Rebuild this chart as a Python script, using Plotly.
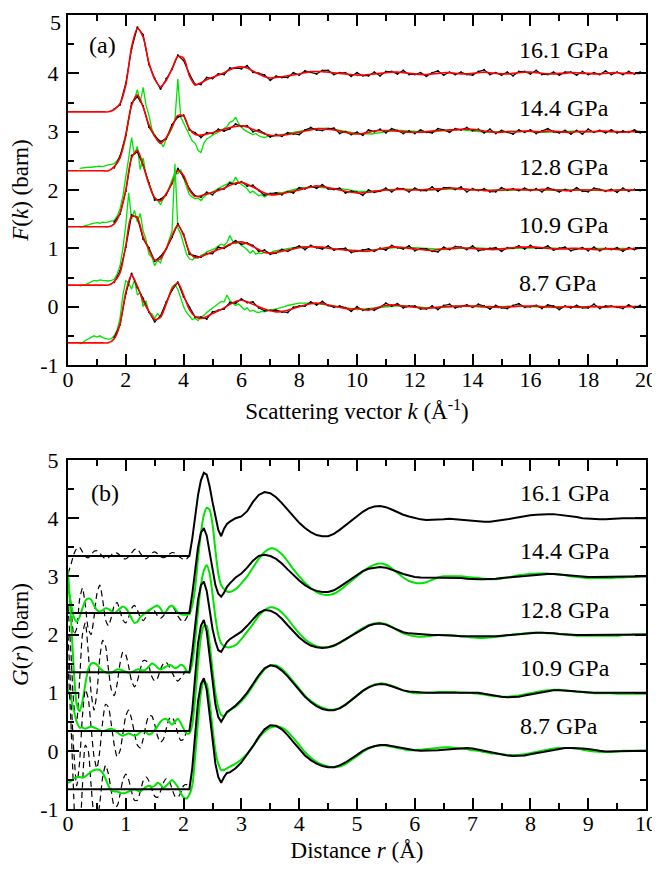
import plotly.graph_objects as go

FONT = "Liberation Serif, Times New Roman, Times, serif"
GREEN = "#00e400"
pressures = ["16.1 GPa", "14.4 GPa", "12.8 GPa", "10.9 GPa", "8.7 GPa"]
offsets = [4, 3, 2, 1, 0]

# ---------------- panel (a): F(k) ----------------
# fitted F(k), k = 0.0 ... 19.8 step 0.2 (rows of 10)
fit_161 = [-0.66, -0.66, -0.66, -0.66, -0.66, -0.66, -0.66, -0.66, -0.62, -0.52,
           -0.2, 0.45, 0.77, 0.62, 0.18, -0.1, -0.23, -0.12, 0.08, 0.29,
           0.26, -0.04, -0.20, -0.16, -0.11, -0.07, -0.03, 0.01, 0.06, 0.10,
           0.11, 0.09, 0.04, -0.01, -0.06, -0.08, -0.07, -0.06, -0.04, -0.03,
           -0.01, 0.01, 0.03, 0.03, 0.03, 0.02, 0.01, 0.0, -0.01, -0.02,
           -0.03, -0.03, -0.02, -0.01, 0.0, 0.01, 0.02, 0.02, 0.01, 0.0,
           -0.01, -0.02, -0.02, -0.01, 0.0, 0.01, 0.01, 0.0, -0.01, -0.01,
           0.0, 0.01, 0.02, 0.01, 0.0, -0.01, -0.01, 0.0, 0.01, 0.02,
           0.02, 0.01, 0.0, -0.01, -0.01, 0.0, 0.0, 0.01, 0.01, 0.0,
           0.0, -0.01, -0.01, 0.0, 0.01, 0.01, 0.0, 0.0, 0.0, 0.0]
fit_144 = [-0.67, -0.67, -0.67, -0.67, -0.67, -0.67, -0.67, -0.67, -0.6, -0.45,
           -0.05, 0.45, 0.63, 0.42, 0.12, -0.08, -0.2, -0.1, 0.08, 0.28,
           0.27, 0.05, -0.05, -0.06, -0.04, -0.02, 0.01, 0.04, 0.07, 0.09,
           0.10, 0.08, 0.04, 0.0, -0.04, -0.06, -0.07, -0.06, -0.05, -0.03,
           -0.01, 0.01, 0.03, 0.05, 0.05, 0.04, 0.03, 0.01, -0.01, -0.03,
           -0.04, -0.03, -0.01, 0.01, 0.02, 0.02, 0.02, 0.01, 0.0, -0.01,
           -0.01, -0.01, 0.0, 0.01, 0.02, 0.02, 0.03, 0.03, 0.04, 0.04,
           0.04, 0.03, 0.01, 0.0, -0.01, -0.01, 0.0, 0.0, 0.0, 0.01,
           0.01, 0.0, 0.0, 0.01, 0.01, 0.0, -0.01, -0.01, 0.0, 0.0,
           0.0, 0.0, 0.01, 0.01, 0.0, 0.0, -0.01, 0.0, 0.0, 0.0]
fit_128 = [-0.63, -0.63, -0.63, -0.63, -0.63, -0.63, -0.63, -0.63, -0.58, -0.4,
           0.0, 0.55, 0.68, 0.42, 0.1, -0.13, -0.19, -0.06, 0.12, 0.33,
           0.25, 0.0, -0.11, -0.1, -0.07, -0.04, -0.01, 0.03, 0.08, 0.12,
           0.13, 0.1, 0.05, 0.0, -0.05, -0.08, -0.08, -0.06, -0.04, -0.02,
           0.0, 0.03, 0.05, 0.07, 0.06, 0.04, 0.02, 0.0, -0.02, -0.04,
           -0.05, -0.05, -0.04, -0.02, -0.01, 0.0, 0.0, 0.01, 0.01, 0.0,
           0.0, 0.0, 0.01, 0.01, 0.02, 0.02, 0.03, 0.03, 0.02, 0.01,
           0.0, 0.0, -0.01, -0.01, 0.0, 0.0, 0.01, 0.01, 0.01, 0.0,
           0.0, 0.0, 0.01, 0.01, 0.0, 0.0, -0.01, -0.01, 0.0, 0.0,
           0.0, 0.0, 0.0, -0.01, -0.01, 0.0, 0.0, 0.0, 0.0, 0.0]
fit_109 = [-0.63, -0.63, -0.63, -0.63, -0.63, -0.63, -0.63, -0.63, -0.57, -0.42,
           0.05, 0.55, 0.52, 0.2, -0.02, -0.2, -0.18, 0.0, 0.22, 0.40,
           0.22, -0.06, -0.16, -0.14, -0.1, -0.06, -0.02, 0.02, 0.07, 0.1,
           0.11, 0.08, 0.03, -0.02, -0.07, -0.08, -0.07, -0.05, -0.03, -0.01,
           0.01, 0.02, 0.03, 0.02, 0.02, 0.0, -0.01, -0.02, -0.03, -0.04,
           -0.04, -0.05, -0.05, -0.03, -0.01, 0.01, 0.02, 0.02, 0.01, 0.0,
           -0.01, -0.02, -0.03, -0.04, -0.02, -0.01, 0.0, 0.0, 0.01, 0.0,
           0.0, -0.01, -0.01, -0.02, -0.02, -0.01, 0.0, 0.01, 0.02, 0.02,
           0.02, 0.02, 0.01, 0.0, -0.01, -0.01, -0.01, 0.0, 0.0, -0.01,
           -0.01, -0.02, -0.02, -0.01, -0.01, -0.02, -0.02, -0.01, 0.0, 0.0]
fit_87 = [-0.62, -0.62, -0.62, -0.62, -0.62, -0.62, -0.62, -0.62, -0.55, -0.3,
          0.25, 0.54, 0.35, 0.1, -0.08, -0.22, -0.18, 0.05, 0.3, 0.41,
          0.2, -0.05, -0.17, -0.2, -0.17, -0.12, -0.07, -0.02, 0.04, 0.09,
          0.11, 0.08, 0.04, 0.0, -0.04, -0.07, -0.09, -0.08, -0.06, -0.03,
          0.0, 0.03, 0.05, 0.06, 0.05, 0.03, 0.01, -0.01, -0.03, -0.04,
          -0.03, -0.05, -0.06, -0.03, 0.0, 0.02, 0.03, 0.02, 0.01, 0.0,
          -0.01, -0.02, -0.03, -0.02, -0.01, 0.0, 0.0, 0.01, 0.01, 0.01,
          0.01, 0.01, 0.0, 0.0, -0.01, -0.01, 0.0, 0.0, 0.01, 0.01,
          0.01, 0.01, 0.0, 0.0, -0.01, -0.01, 0.0, 0.0, -0.01, -0.01,
          0.0, 0.0, 0.0, -0.01, 0.0, 0.0, 0.0, 0.0, 0.0, 0.0]

# measured scatter around the fit (hundredths of a barn), k = 1.6 ... 19.8 step 0.2
dev_161 = [1, -2, 3, -3, 2, 4, -3, 1, -4, 3, -1, 2, -4, 3, 1, -3, 4, -2, 2, -3,
           3, -1, -3, 4, -2, 1, 3, -4, 2, -1, -3, 4, -2, 3, -1, -4, 2, 3, -3, 1,
           2, -3, 4, -1, -2, 3, -4, 2, 1, -3, 4, -2, -1, 3, -3, 2, 4, -4, 1, -2,
           3, -1, -3, 2, 4, -3, 1, -2, 3, -4, 2, 1, -3, 4, -2, -1, 3, -3, 2, 1,
           -4, 3, -2, 2, -1, 4, -3, 1, -2, 3, -1, 2]
dev_144 = [-2, 3, -1, 4, -3, 2, -4, 1, 3, -2, 4, -3, 1, -2, 3, -4, 2, -1, 3, -3,
           -2, 4, -1, 2, -4, 3, 1, -3, 2, -2, 3, -1, -4, 2, 4, -2, -3, 1, 3, -4,
           1, -2, 3, -3, 4, -1, 2, -4, 3, 1, -3, 2, -2, 4, -1, -3, 3, 1, -4, 2,
           -1, 3, -2, 1, -3, 4, -2, 3, -1, -4, 3, -2, 2, -3, 1, 4, -1, -2, 3, -3,
           2, -4, 4, -1, 1, -3, 3, -2, 2, -1, 3, -2]
dev_128 = [3, -1, -2, 4, -3, 1, 2, -4, 3, -2, -1, 4, -3, 2, 1, -2, 3, -4, 2, -1,
           4, -2, 1, -3, 3, -1, -4, 2, 3, -2, 1, -3, 4, -1, 2, -4, 3, -2, -1, 3,
           -3, 2, 1, -4, 4, -2, -1, 3, -3, 2, 1, -3, 3, -1, -2, 4, -4, 2, 1, -2,
           3, -4, 2, -1, 3, -2, -3, 4, -1, 1, -2, 3, -1, 2, -4, 3, 1, -3, 2, -1,
           4, -2, -3, 3, 1, -1, 2, -4, 3, -2, 1, -1]
dev_109 = [-1, 3, -3, 2, 1, -4, 3, -2, 4, -1, -3, 2, 2, -4, 3, -1, 1, -3, 4, -2,
           -1, 3, -4, 1, 2, -3, 4, -2, -1, 3, -2, 1, 3, -4, 2, -1, -3, 4, -2, 1,
           3, -3, -1, 2, 4, -2, 1, -4, 3, -1, -2, 4, -3, 1, 2, -1, -4, 3, -2, 3,
           1, -2, 4, -3, -1, 2, 3, -4, 1, -1, 2, -3, 3, -2, -1, 4, -2, 1, 3, -4,
           -1, 2, -3, 4, -2, 1, -1, 3, -3, 2, -2, 1]
dev_87 = [2, -1, -3, 3, -2, 4, -1, -4, 2, 3, -2, 1, -3, 4, -1, 2, -4, 3, 1, -2,
          3, -3, 2, -1, 4, -2, -3, 1, 3, -1, -4, 2, 1, -2, 3, -3, 4, -1, -2, 2,
          1, -4, 3, -1, 2, -3, -1, 4, -2, 3, -3, 1, 2, -2, -1, 3, -4, 2, 4, -3,
          -1, 2, -2, 3, 1, -4, 3, -1, -3, 2, 4, -2, -1, 1, -3, 3, 2, -4, 1, -2,
          3, -1, -2, 4, -3, 2, 1, -1, -3, 3, -2, 2]

# second data set (green), k = 0.4 ... 7.9 step 0.1, then 8.0 ... 19.5 step 0.5
grn_144 = [-0.63, -0.62, -0.62, -0.61, -0.61, -0.6, -0.6, -0.59, -0.6, -0.58,
           -0.57, -0.56, -0.55, -0.5, -0.42, -0.3, -0.1, 0.2, 0.48, 0.56,
           0.72, 0.5, 0.76, 0.45, 0.28, 0.05, -0.06, -0.13, -0.18, -0.26,
           -0.12, -0.04, 0.06, 0.2, 0.9, 0.25, 0.15, 0.05, -0.05, -0.16,
           -0.2, -0.32, -0.36, -0.2, -0.12, -0.1, -0.06, -0.04, -0.01, 0.02,
           0.05, 0.09, 0.16, 0.18, 0.25, 0.14, 0.08, 0.03, 0.0, -0.03,
           -0.05, -0.03, -0.07, -0.09, -0.1, -0.08, -0.07, -0.08, -0.06, -0.06,
           -0.05, -0.04, -0.03, -0.03, -0.02, -0.01,
           0.0, 0.05, 0.06, 0.02, -0.03, -0.04, 0.0, 0.02, 0.0, -0.01, 0.02, 0.04,
           0.01, -0.01, 0.0, 0.01, 0.0, -0.01, 0.0, 0.01, 0.0, 0.0, -0.01, 0.0]
grn_128 = [-0.64, -0.63, -0.62, -0.6, -0.58, -0.57, -0.56, -0.57, -0.55, -0.56,
           -0.55, -0.54, -0.52, -0.45, -0.32, -0.1, 0.2, 0.55, 0.9, 0.6,
           0.75, 0.35, 0.55, 0.25, 0.1, -0.05, -0.15, -0.18, -0.25, -0.15,
           -0.08, 0.05, 0.15, 0.3, 0.28, 0.35, 0.2, 0.05, -0.08, -0.12,
           -0.15, -0.14, -0.18, -0.12, -0.08, -0.06, -0.03, -0.01, 0.02, 0.05,
           0.08, 0.1, 0.14, 0.12, 0.22, 0.13, 0.1, 0.06, 0.02, -0.05,
           -0.02, -0.06, -0.1, -0.08, -0.12, -0.09, -0.07, -0.08, -0.05, -0.04,
           -0.05, -0.03, -0.02, -0.01, 0.0, 0.01,
           0.03, 0.05, 0.04, 0.02, -0.02, -0.03, 0.0, 0.02, 0.01, 0.0, 0.01, 0.02,
           0.01, 0.0, -0.01, 0.0, 0.01, 0.0, 0.0, 0.01, 0.0, -0.01, 0.0, 0.0]
grn_109 = [-0.65, -0.64, -0.62, -0.6, -0.57, -0.55, -0.56, -0.54, -0.55, -0.56,
           -0.56, -0.55, -0.53, -0.44, -0.3, 0.0, 0.4, 0.95, 0.5, 0.65,
           0.45, 0.6, 0.3, 0.15, -0.1, -0.15, -0.3, -0.2, -0.25, -0.1,
           -0.02, 0.15, 0.3, 1.45, 0.35, 0.25, 0.05, -0.1, -0.18, -0.2,
           -0.15, -0.17, -0.12, -0.1, -0.06, -0.04, -0.02, 0.0, 0.04, 0.07,
           0.05, 0.1, 0.22, 0.12, 0.08, 0.1, 0.05, 0.02, -0.03, -0.08,
           -0.04, -0.1, -0.08, -0.09, -0.07, -0.06, -0.08, -0.05, -0.04, -0.03,
           -0.02, -0.01, 0.0, 0.01, 0.02, 0.02,
           0.03, 0.03, 0.01, -0.02, -0.04, -0.03, 0.0, 0.02, 0.01, -0.01, -0.02, 0.0,
           0.01, 0.0, -0.01, 0.0, 0.01, 0.01, 0.0, -0.01, 0.0, 0.0, 0.0, 0.0]
grn_87 = [-0.64, -0.62, -0.58, -0.55, -0.52, -0.5, -0.52, -0.5, -0.53, -0.55,
          -0.56, -0.55, -0.5, -0.4, -0.2, 0.2, 0.45, 0.4, 0.3, 0.46,
          0.2, 0.25, 0.0, 0.1, -0.1, -0.12, -0.2, -0.12, -0.18, -0.05,
          0.05, 0.2, 0.34, 0.38, 0.3, 0.15, 0.0, -0.1, -0.16, -0.22,
          -0.2, -0.24, -0.18, -0.15, -0.1, -0.06, -0.02, 0.02, 0.05, 0.09,
          0.08, 0.2, 0.1, 0.06, 0.02, 0.05, 0.0, -0.05, -0.02, -0.08,
          -0.06, -0.09, -0.1, -0.08, -0.09, -0.07, -0.06, -0.05, -0.04, -0.02,
          -0.01, 0.0, 0.02, 0.03, 0.04, 0.05,
          0.06, 0.06, 0.03, -0.01, -0.05, -0.03, 0.0, 0.02, 0.0, -0.02, -0.01, 0.01,
          0.0, -0.01, 0.0, 0.01, 0.0, -0.01, 0.0, 0.0, 0.0, 0.0, 0.0, 0.0]

# ---------------- panel (b): G(r) ----------------
# r = 0, 2.1, 2.15 ... 2.8 (0.05), 2.9 ... 10.0 (0.1)
gr_161 = [-0.65, -0.65,
          -0.35, 0.05, 0.4, 0.65, 0.78, 0.75, 0.55, 0.28, 0.02, -0.2, -0.31, -0.18, -0.1, -0.06,
          0.0, 0.03, 0.12, 0.28, 0.4, 0.45, 0.43, 0.36, 0.26, 0.14,
          0.02, -0.08, -0.17, -0.24, -0.29, -0.31, -0.31, -0.27, -0.2, -0.12,
          -0.04, 0.04, 0.11, 0.17, 0.2, 0.21, 0.19, 0.15, 0.1, 0.06,
          0.03, 0.0, -0.02, -0.03, -0.03, -0.02, -0.02, -0.01, -0.02, -0.03,
          -0.04, -0.05, -0.06, -0.06, -0.06, -0.05, -0.04, -0.02, 0.0, 0.02,
          0.04, 0.05, 0.06, 0.07, 0.07, 0.07, 0.06, 0.05, 0.03, 0.02,
          0.0, -0.01, -0.02, -0.02, -0.02, -0.01, -0.01, 0.0, 0.0, 0.0,
          0.0, 0.0]
gr_144 = [-0.63, -0.63,
          -0.3, 0.15, 0.5, 0.75, 0.83, 0.7, 0.4, 0.1, -0.15, -0.3, -0.35, -0.28, -0.18, -0.12,
          -0.02, 0.05, 0.15, 0.27, 0.35, 0.37, 0.35, 0.3, 0.22, 0.12,
          0.02, -0.07, -0.15, -0.21, -0.25, -0.27, -0.27, -0.24, -0.18, -0.11,
          -0.04, 0.03, 0.09, 0.13, 0.15, 0.16, 0.15, 0.12, 0.08, 0.04,
          0.01, -0.01, -0.02, -0.02, -0.02, -0.02, -0.02, -0.02, -0.03, -0.03,
          -0.04, -0.05, -0.05, -0.05, -0.05, -0.04, -0.03, -0.02, -0.01, 0.0,
          0.01, 0.02, 0.03, 0.04, 0.04, 0.04, 0.03, 0.02, 0.01, 0.0,
          -0.01, -0.01, -0.01, -0.01, 0.0, 0.0, 0.0, 0.0, 0.0, 0.0,
          0.0, 0.0]
gr_128 = [-0.65, -0.65,
          -0.3, 0.2, 0.6, 0.85, 0.91, 0.75, 0.42, 0.1, -0.12, -0.27, -0.3, -0.22, -0.13, -0.08,
          -0.02, 0.05, 0.15, 0.27, 0.37, 0.42, 0.41, 0.36, 0.27, 0.16,
          0.05, -0.05, -0.13, -0.19, -0.22, -0.23, -0.22, -0.19, -0.14, -0.08,
          -0.02, 0.04, 0.1, 0.15, 0.18, 0.19, 0.17, 0.13, 0.08, 0.04,
          0.02, 0.01, 0.0, -0.01, -0.01, -0.01, -0.01, -0.01, -0.02, -0.03,
          -0.03, -0.04, -0.04, -0.04, -0.04, -0.03, -0.02, -0.01, 0.0, 0.01,
          0.02, 0.03, 0.03, 0.03, 0.03, 0.02, 0.01, 0.0, -0.01, -0.01,
          -0.01, -0.01, 0.0, 0.0, 0.0, 0.0, 0.0, 0.0, 0.0, 0.0,
          0.0, 0.0]
gr_109 = [-0.66, -0.66,
          -0.3, 0.3, 0.85, 1.15, 1.25, 1.05, 0.6, 0.15, -0.2, -0.42, -0.5, -0.42, -0.33, -0.3,
          -0.22, -0.12, 0.0, 0.15, 0.3, 0.42, 0.47, 0.45, 0.38, 0.28,
          0.16, 0.04, -0.07, -0.16, -0.23, -0.28, -0.3, -0.3, -0.27, -0.21,
          -0.13, -0.05, 0.03, 0.09, 0.13, 0.15, 0.14, 0.11, 0.07, 0.04,
          0.02, 0.01, 0.0, 0.0, 0.0, 0.0, 0.0, 0.01, 0.01, 0.01,
          0.01, 0.01, 0.0, -0.02, -0.04, -0.06, -0.07, -0.08, -0.08, -0.07,
          -0.05, -0.03, -0.01, 0.01, 0.03, 0.04, 0.04, 0.04, 0.03, 0.02,
          0.01, 0.0, 0.0, 0.0, 0.0, 0.0, 0.0, 0.0, 0.0, 0.0,
          0.0, 0.0]
gr_87 = [-0.66, -0.66,
         -0.3, 0.3, 0.85, 1.15, 1.25, 1.05, 0.6, 0.15, -0.22, -0.45, -0.55, -0.45, -0.38, -0.37,
         -0.3, -0.2, -0.07, 0.08, 0.24, 0.37, 0.44, 0.43, 0.37, 0.27,
         0.15, 0.03, -0.08, -0.16, -0.22, -0.26, -0.28, -0.28, -0.25, -0.2,
         -0.14, -0.07, 0.0, 0.05, 0.08, 0.1, 0.1, 0.08, 0.06, 0.04,
         0.02, 0.01, 0.0, 0.0, 0.01, 0.01, 0.02, 0.03, 0.04, 0.05,
         0.05, 0.04, 0.02, 0.0, -0.03, -0.05, -0.07, -0.08, -0.09, -0.09,
         -0.08, -0.06, -0.04, -0.02, 0.0, 0.02, 0.04, 0.05, 0.05, 0.05,
         0.04, 0.03, 0.01, 0.0, -0.01, -0.01, -0.01, 0.0, 0.0, 0.0,
         0.0, 0.0]

# green G(r): r = 0 ... 2.05 (0.05), then 2.1, 2.15 ... 2.8, 2.9 ... 10.0
ggr_144 = [-0.19, -0.45, -0.7, -0.78, -0.7, -0.55, -0.42, -0.38, -0.4, -0.5,
           -0.58, -0.61, -0.58, -0.55, -0.56, -0.6, -0.63, -0.6, -0.55, -0.52,
           -0.55, -0.62, -0.72, -0.8, -0.78, -0.7, -0.66, -0.62, -0.58, -0.55,
           -0.52, -0.5, -0.55, -0.63, -0.6, -0.53, -0.5, -0.55, -0.62, -0.65,
           -0.66, -0.66,
           -0.65,
           -0.5, -0.2, 0.3, 0.75, 1.05, 1.18, 1.15, 0.9, 0.45, 0.05, -0.15, -0.22, -0.26, -0.27,
           -0.22, -0.12, 0.0, 0.15, 0.3, 0.42, 0.48, 0.46, 0.38, 0.26,
           0.12, 0.0, -0.11, -0.2, -0.27, -0.31, -0.32, -0.3, -0.24, -0.16,
           -0.08, 0.0, 0.08, 0.15, 0.2, 0.22, 0.2, 0.14, 0.06, -0.02,
           -0.08, -0.11, -0.12, -0.1, -0.06, -0.02, 0.0, 0.0, 0.0, 0.0,
           -0.01, -0.02, -0.03, -0.04, -0.05, -0.05, -0.04, -0.02, 0.0, 0.02,
           0.03, 0.04, 0.05, 0.05, 0.05, 0.04, 0.03, 0.02, 0.0, -0.01,
           -0.02, -0.03, -0.03, -0.03, -0.03, -0.03, -0.02, -0.02, -0.01, -0.01,
           0.0, 0.0]
ggr_128 = [1.1, 0.3, -0.6, -1.2, -1.32, -1.15, -0.85, -0.6, -0.5, -0.49,
           -0.52, -0.58, -0.62, -0.65, -0.67, -0.66, -0.63, -0.6, -0.6, -0.62,
           -0.64, -0.66, -0.65, -0.62, -0.6, -0.6, -0.62, -0.6, -0.55, -0.5,
           -0.52, -0.57, -0.6, -0.58, -0.55, -0.52, -0.54, -0.58, -0.56, -0.52,
           -0.54, -0.62,
           -0.66,
           -0.5, -0.1, 0.4, 0.85, 1.1, 1.19, 1.05, 0.7, 0.3, 0.0, -0.15, -0.2, -0.22, -0.22,
           -0.18, -0.08, 0.05, 0.18, 0.32, 0.42, 0.47, 0.45, 0.38, 0.27,
           0.14, 0.02, -0.08, -0.15, -0.2, -0.22, -0.22, -0.2, -0.15, -0.09,
           -0.02, 0.05, 0.11, 0.16, 0.19, 0.2, 0.18, 0.13, 0.07, 0.02,
           -0.01, -0.03, -0.04, -0.03, -0.02, -0.01, -0.01, -0.01, -0.02, -0.03,
           -0.04, -0.05, -0.06, -0.06, -0.05, -0.04, -0.03, -0.01, 0.0, 0.01,
           0.02, 0.03, 0.03, 0.03, 0.02, 0.02, 0.01, 0.0, -0.01, -0.02,
           -0.02, -0.02, -0.02, -0.02, -0.02, -0.02, -0.02, -0.01, -0.01, 0.0,
           0.0, 0.0]
ggr_109 = [0.05, -0.1, -0.3, -0.5, -0.6, -0.6, -0.62, -0.6, -0.58, -0.6,
           -0.62, -0.65, -0.66, -0.65, -0.63, -0.62, -0.64, -0.68, -0.72, -0.74,
           -0.72, -0.7, -0.72, -0.74, -0.72, -0.68, -0.66, -0.68, -0.72, -0.7,
           -0.64, -0.57, -0.5, -0.46, -0.45, -0.5, -0.55, -0.5, -0.45, -0.52,
           -0.62, -0.7,
           -0.7,
           -0.55, -0.1, 0.5, 0.95, 1.15, 1.15, 0.85, 0.4, 0.0, -0.25, -0.38, -0.4, -0.35, -0.3,
           -0.24, -0.15, -0.03, 0.12, 0.27, 0.4, 0.47, 0.47, 0.41, 0.31,
           0.19, 0.07, -0.05, -0.14, -0.21, -0.26, -0.29, -0.29, -0.26, -0.2,
           -0.13, -0.05, 0.03, 0.09, 0.14, 0.16, 0.15, 0.12, 0.08, 0.04,
           0.01, -0.01, -0.01, 0.0, 0.0, 0.01, 0.01, 0.01, 0.01, 0.0,
           0.0, -0.01, -0.02, -0.03, -0.05, -0.06, -0.07, -0.07, -0.06, -0.05,
           -0.03, -0.01, 0.01, 0.03, 0.04, 0.05, 0.05, 0.04, 0.03, 0.02,
           0.01, 0.0, -0.01, -0.01, -0.01, -0.01, -0.02, -0.02, -0.02, -0.02,
           -0.02, -0.02]
ggr_87 = [-0.55, -0.52, -0.48, -0.45, -0.45, -0.46, -0.44, -0.4, -0.36, -0.33,
          -0.32, -0.33, -0.38, -0.48, -0.6, -0.68, -0.7, -0.7, -0.72, -0.73,
          -0.72, -0.7, -0.68, -0.66, -0.68, -0.7, -0.66, -0.62, -0.6, -0.62,
          -0.6, -0.55, -0.58, -0.64, -0.6, -0.55, -0.5, -0.55, -0.62, -0.72,
          -0.8, -0.82,
          -0.75,
          -0.6, -0.1, 0.5, 1.0, 1.2, 1.15, 0.85, 0.4, 0.0, -0.22, -0.33, -0.33, -0.3, -0.27,
          -0.22, -0.15, -0.05, 0.08, 0.22, 0.33, 0.4, 0.42, 0.4, 0.33,
          0.22, 0.1, -0.02, -0.12, -0.19, -0.24, -0.27, -0.28, -0.27, -0.23,
          -0.16, -0.09, -0.02, 0.04, 0.08, 0.09, 0.09, 0.07, 0.05, 0.03,
          0.01, 0.01, 0.02, 0.03, 0.04, 0.05, 0.06, 0.06, 0.05, 0.04,
          0.03, 0.01, 0.0, -0.02, -0.04, -0.05, -0.06, -0.07, -0.07, -0.07,
          -0.06, -0.04, -0.02, 0.0, 0.02, 0.04, 0.05, 0.05, 0.05, 0.04,
          0.02, 0.0, -0.01, -0.02, -0.02, -0.02, -0.01, 0.0, 0.0, 0.0,
          0.0, 0.0]

# dashed low-r G(r): r = 0 ... 2.1 step 0.05
dgr_161 = [-0.95, -0.8, -0.62, -0.52, -0.5, -0.58, -0.66, -0.68, -0.63, -0.57,
           -0.56, -0.6, -0.66, -0.7, -0.68, -0.63, -0.59, -0.6, -0.64, -0.69,
           -0.7, -0.66, -0.6, -0.54, -0.53, -0.6, -0.67, -0.7, -0.66, -0.6,
           -0.58, -0.61, -0.66, -0.68, -0.66, -0.62, -0.59, -0.6, -0.64, -0.68,
           -0.71, -0.7, -0.65]
dgr_144 = [0.0, -0.5, -1.0, -0.9, -0.4, -0.2, -0.5, -0.9, -1.0, -0.7,
           -0.3, -0.15, -0.4, -0.75, -0.85, -0.7, -0.5, -0.45, -0.6, -0.75,
           -0.8, -0.7, -0.55, -0.5, -0.58, -0.7, -0.76, -0.7, -0.6, -0.55,
           -0.6, -0.68, -0.72, -0.68, -0.6, -0.52, -0.5, -0.58, -0.68, -0.75,
           -0.78, -0.72, -0.6]
dgr_128 = [0.5, -0.3, -1.2, -1.5, -0.8, 0.0, 0.2, -0.3, -1.0, -1.3,
           -1.0, -0.4, -0.1, -0.2, -0.6, -0.95, -1.05, -0.85, -0.5, -0.3,
           -0.35, -0.55, -0.8, -0.9, -0.8, -0.6, -0.45, -0.45, -0.55, -0.72,
           -0.8, -0.75, -0.6, -0.5, -0.48, -0.55, -0.65, -0.75, -0.8, -0.75,
           -0.68, -0.6, -0.6]
dgr_109 = [1.0, 0.0, -1.0, -1.6, -1.2, -0.4, 0.05, -0.1, -0.6, -1.1,
           -1.3, -1.0, -0.5, -0.2, -0.25, -0.55, -0.9, -1.1, -1.0, -0.7,
           -0.4, -0.3, -0.45, -0.7, -0.9, -0.95, -0.8, -0.55, -0.4, -0.4,
           -0.55, -0.75, -0.85, -0.8, -0.62, -0.45, -0.42, -0.52, -0.7, -0.82,
           -0.8, -0.68, -0.62]
dgr_87 = [1.5, 0.5, -0.8, -1.8, -1.5, -0.6, 0.1, 0.0, -0.6, -1.1,
          -1.2, -0.9, -0.45, -0.25, -0.4, -0.7, -0.95, -0.95, -0.75, -0.5,
          -0.4, -0.5, -0.7, -0.85, -0.85, -0.7, -0.52, -0.45, -0.52, -0.66,
          -0.78, -0.8, -0.7, -0.55, -0.48, -0.52, -0.65, -0.78, -0.8, -0.72,
          -0.6, -0.58, -0.66]

# ---------------- grids (axis positions) ----------------
k_fit = [round(0.2 * i, 1) for i in range(100)]
k_grn = [round(0.4 + 0.1 * i, 1) for i in range(76)] + [8.0 + 0.5 * j for j in range(24)]
r_main = [0.0, 2.1] + [round(2.15 + 0.05 * i, 2) for i in range(14)] + [round(2.9 + 0.1 * i, 1) for i in range(72)]
r_low = [round(0.05 * i, 2) for i in range(43)]
r_green = r_low[:42] + r_main[1:]

fits = [fit_161, fit_144, fit_128, fit_109, fit_87]
devs = [dev_161, dev_144, dev_128, dev_109, dev_87]
greens_a = [None, grn_144, grn_128, grn_109, grn_87]
grs = [gr_161, gr_144, gr_128, gr_109, gr_87]
greens_b = [None, ggr_144, ggr_128, ggr_109, ggr_87]
dashed_b = [dgr_161, dgr_144, dgr_128, dgr_109, dgr_87]

fig = go.Figure()

# panel (a)
for fit, dev, grn, off in zip(fits, devs, greens_a, offsets):
    if grn is not None:
        fig.add_trace(go.Scatter(x=k_grn[:len(grn)], y=[v + off for v in grn], mode="lines",
                                 line=dict(color=GREEN, width=1.3), xaxis="x", yaxis="y",
                                 showlegend=False, hoverinfo="skip"))
    kd = k_fit[8:8 + len(dev)]
    yd = [f + d / 100 + off for f, d in zip(fit[8:], dev)]
    fig.add_trace(go.Scatter(x=kd, y=yd, mode="lines+markers", line=dict(color="black", width=1.2),
                             marker=dict(color="black", size=2),
                             xaxis="x", yaxis="y", showlegend=False, hoverinfo="skip"))
    fig.add_trace(go.Scatter(x=k_fit[:len(fit)], y=[v + off for v in fit], mode="lines",
                             line=dict(color="#ff0000", width=1.6, shape="spline", smoothing=0.8),
                             xaxis="x", yaxis="y", showlegend=False, hoverinfo="skip"))

# panel (b)
for gr, ggr, dgr, off in zip(grs, greens_b, dashed_b, offsets):
    fig.add_trace(go.Scatter(x=r_low[:len(dgr)], y=[v + off for v in dgr], mode="lines",
                             line=dict(color="black", width=1.2, dash="6px,4px", shape="spline", smoothing=0.6),
                             xaxis="x2", yaxis="y2", showlegend=False, hoverinfo="skip"))
    if ggr is not None:
        fig.add_trace(go.Scatter(x=r_green[:len(ggr)], y=[v + off for v in ggr], mode="lines",
                                 line=dict(color=GREEN, width=2, shape="spline", smoothing=0.6),
                                 xaxis="x2", yaxis="y2", showlegend=False, hoverinfo="skip"))
    fig.add_trace(go.Scatter(x=r_main[:len(gr)], y=[v + off for v in gr], mode="lines",
                             line=dict(color="black", width=2),
                             xaxis="x2", yaxis="y2", showlegend=False, hoverinfo="skip"))

tickfont = dict(family=FONT, size=22, color="black")
titlefont = dict(family=FONT, size=23, color="black")


def axis(**kw):
    base = dict(showline=True, linecolor="black", linewidth=2, mirror="allticks",
                ticks="inside", ticklen=11, tickwidth=1.5, tickcolor="black",
                showgrid=False, zeroline=False, tickfont=tickfont, automargin=False,
                title_font=titlefont)
    base.update(kw)
    return base


ytv_a = [-1, 0, 1, 2, 3, 4]
ytt_a = ["-1", "0", "1", "2", "3", "4"]
ytv_b = [-1, 0, 1, 2, 3, 4, 5]
ytt_b = ["-1", "0", "1", "2", "3", "4", "5"]

# page body adds an 8 px margin, so the figure is sized to fit the 660x871 window
fig.update_layout(
    width=652, height=855,
    margin=dict(l=60, r=14, t=7, b=54),
    plot_bgcolor="white", paper_bgcolor="white",
    xaxis=axis(domain=[0, 1], anchor="y", range=[0, 20], tickvals=list(range(0, 21, 2)),
               ticklabelstandoff=-6,
               minor=dict(ticks="inside", ticklen=6, tickwidth=1.5, tickcolor="black", dtick=1),
               title=dict(text="Scattering vector <i>k</i> (Å<sup>-1</sup>)", standoff=12)),
    yaxis=axis(domain=[0.5592, 1.0], anchor="x", range=[-1, 5], tickvals=ytv_a, ticktext=ytt_a,
               ticklabelstandoff=3,
               minor=dict(ticks="inside", ticklen=6, tickwidth=1.5, tickcolor="black", dtick=0.5),
               title=dict(text="<i>F</i>(<i>k</i>) (barn)", standoff=20)),
    xaxis2=axis(domain=[0, 1], anchor="y2", range=[0, 10], tickvals=list(range(0, 11)),
                ticklabelstandoff=-6,
                minor=dict(ticks="inside", ticklen=6, tickwidth=1.5, tickcolor="black", dtick=0.5),
                title=dict(text="Distance <i>r</i> (Å)", standoff=8)),
    yaxis2=axis(domain=[0.0, 0.4395], anchor="x2", range=[-1, 5], tickvals=ytv_b, ticktext=ytt_b,
                ticklabelstandoff=3,
                minor=dict(ticks="inside", ticklen=6, tickwidth=1.5, tickcolor="black", dtick=0.5),
                title=dict(text="<i>G</i>(<i>r</i>) (barn)", standoff=20)),
)

ann = []
for p, off in zip(pressures, offsets):
    ann.append(dict(x=15.55, y=off + 0.4, xref="x", yref="y", text=p, showarrow=False,
                    xanchor="left", yanchor="middle", font=dict(family=FONT, size=24, color="black")))
    ann.append(dict(x=7.79, y=off + 0.43, xref="x2", yref="y2", text=p, showarrow=False,
                    xanchor="left", yanchor="middle", font=dict(family=FONT, size=24, color="black")))
ann.append(dict(x=1.18, y=4.49, xref="x", yref="y", text="(a)", showarrow=False,
                font=dict(family=FONT, size=24, color="black")))
ann.append(dict(x=0.64, y=4.43, xref="x2", yref="y2", text="(b)", showarrow=False,
                font=dict(family=FONT, size=24, color="black")))
# top tick label of panel (a), kept fully inside the page
ann.append(dict(x=0, y=1, xref="paper", yref="paper", text="5", showarrow=False,
                xanchor="right", yanchor="top", xshift=-5, yshift=7,
                font=dict(family=FONT, size=22, color="black")))
fig.update_layout(annotations=ann)

fig.write_html("out.html")
